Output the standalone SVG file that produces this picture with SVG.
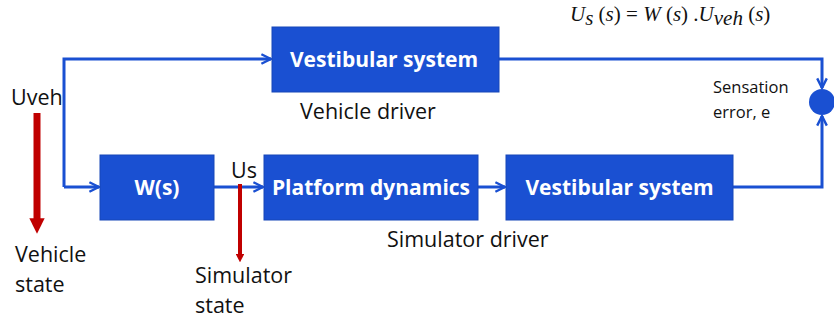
<svg xmlns="http://www.w3.org/2000/svg" width="834" height="325" viewBox="0 0 834 325">
<defs>
<style>
.box{fill:#1a50d2;stroke:#1646b8;stroke-width:1}
.bt{font-family:"Open Sans",sans-serif;font-weight:bold;font-size:21px;fill:#fff;text-anchor:middle}
.t{font-family:"Open Sans",sans-serif;font-size:21.5px;fill:#111}
.s{font-family:"Open Sans",sans-serif;font-size:16.5px;fill:#111}
.c{fill:none;stroke:#1a50d2;stroke-width:3}
.r{fill:none;stroke:#c00000}
.eq{font-family:"Liberation Serif",serif;font-style:italic;font-size:21px;fill:#111}
.eqn{font-family:"Liberation Serif",serif;font-size:21px;fill:#111}
</style>
<marker id="ab" viewBox="0 0 10 10" refX="9" refY="5" markerWidth="4" markerHeight="4" orient="auto" markerUnits="strokeWidth">
<path d="M1,1 L9,5 L1,9" fill="none" stroke="#1a50d2" stroke-width="2"/>
</marker>
<marker id="ar" viewBox="0 0 10 10" refX="5" refY="5" markerWidth="2.2" markerHeight="2.2" orient="auto" markerUnits="strokeWidth">
<path d="M0,0 L10,5 L0,10 z" fill="#c00000"/>
</marker>
</defs>
<g id="connectors">
<path class="c" d="M64,187 V59 H271" marker-end="url(#ab)"/>
<path class="c" d="M64,187 H99" marker-end="url(#ab)"/>
<path class="c" d="M214,187 H263" marker-end="url(#ab)"/>
<path class="c" d="M478,187 H505" marker-end="url(#ab)"/>
<path class="c" d="M499,59 H822 V88" marker-end="url(#ab)"/>
<path class="c" d="M733,187 H822 V116" marker-end="url(#ab)"/>
<path class="r" stroke-width="7" d="M37,113 V226" marker-end="url(#ar)"/>
<path class="r" stroke-width="4" d="M240,184 V258" marker-end="url(#ar)"/>
</g>
<g id="vestibular-top">
<rect class="box" x="272" y="27" width="227" height="65"/>
<text class="bt" x="384" y="67">Vestibular system</text>
</g>
<g id="ws">
<rect class="box" x="100" y="155" width="114" height="65"/>
<text class="bt" x="157" y="195">W(s)</text>
</g>
<g id="platform">
<rect class="box" x="264" y="155" width="214" height="65"/>
<text class="bt" x="371" y="195">Platform dynamics</text>
</g>
<g id="vestibular-bottom">
<rect class="box" x="506" y="155" width="227" height="65"/>
<text class="bt" x="619.5" y="195">Vestibular system</text>
</g>
<g id="sum">
<circle cx="822" cy="102" r="13" fill="#1a50d2"/>
</g>
<g id="labels">
<text class="t" x="300" y="119">Vehicle driver</text>
<text class="t" x="387" y="247">Simulator driver</text>
<text class="t" x="11" y="105">Uveh</text>
<text class="t" x="231" y="178">Us</text>
<text class="t" x="15" y="262">Vehicle</text>
<text class="t" x="15" y="292">state</text>
<text class="t" x="195" y="283">Simulator</text>
<text class="t" x="195" y="313">state</text>
<text class="s" x="713" y="93">Sensation</text>
<text class="s" x="713" y="118">error, e</text>
<text class="eqn" x="570" y="21"><tspan class="eq">U</tspan><tspan class="eq" font-size="14" dy="4">s</tspan><tspan dy="-4"> (</tspan><tspan class="eq">s</tspan>) = <tspan class="eq">W</tspan> (<tspan class="eq">s</tspan>) .<tspan class="eq">U</tspan><tspan class="eq" font-size="14" dy="4">veh</tspan><tspan dy="-4"> (</tspan><tspan class="eq">s</tspan>)</text>
</g>
</svg>
